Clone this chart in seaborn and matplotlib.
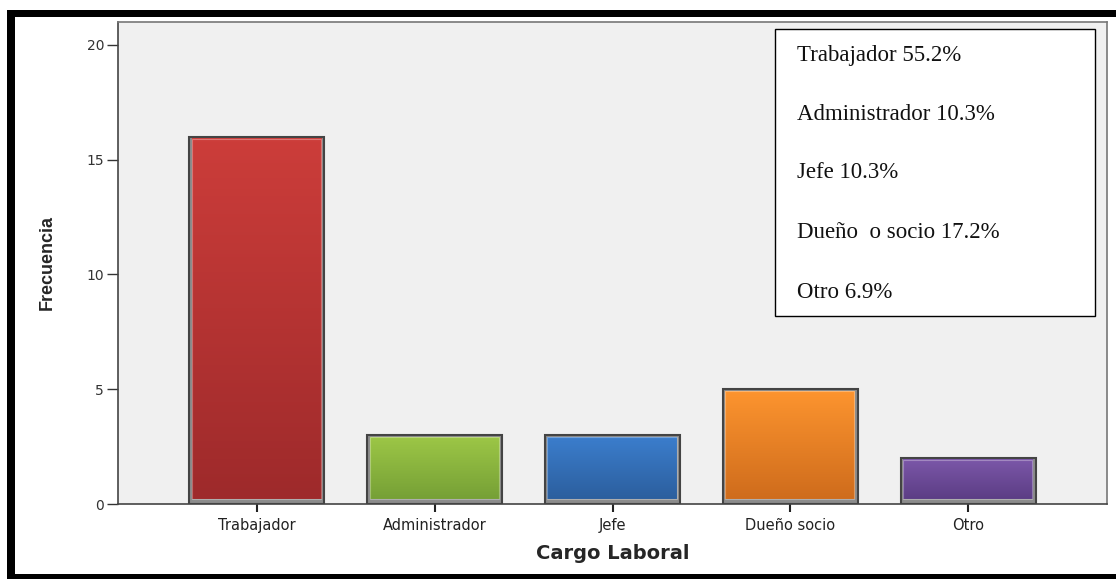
import matplotlib
matplotlib.use("Agg")
import matplotlib.pyplot as plt
import numpy as np
import seaborn as sns
from matplotlib.colors import LinearSegmentedColormap
from matplotlib.patches import Rectangle

# datos
cargos = ["Trabajador", "Administrador", "Jefe", "Dueño socio", "Otro"]
frecuencias = [16, 3, 3, 5, 2]
etiquetas_cuadro = ["Trabajador", "Administrador", "Jefe", "Dueño  o socio", "Otro"]
colores_sup = ["#cc3d3a", "#9cc646", "#3b7dcc", "#fc942f", "#7b57a8"]
colores_inf = ["#9e2a2b", "#76a036", "#2c5f9e", "#cf6c1c", "#5c3d85"]
ticks_y = [0, 5, 10, 15, 20]

sns.set_theme(style="white")
plt.rcParams["font.family"] = ["DejaVu Sans"]

fig = plt.figure(figsize=(11.16, 5.79), dpi=100)
ax = fig.add_axes([118 / 1116, 75 / 579, 989 / 1116, 482 / 579])
ax.set_facecolor("#f0f0f0")

sns.barplot(x=cargos, y=frecuencias, ax=ax, width=0.76, color="#8c8c8c",
            edgecolor="#444444", linewidth=1.5, saturation=1)

# relleno degradado dentro de cada barra
for i, bar in enumerate(ax.patches):
    x0 = bar.get_x()
    w = bar.get_width()
    h = bar.get_height()
    cmap = LinearSegmentedColormap.from_list("g", [colores_inf[i], colores_sup[i]])
    grad = np.linspace(0, 1, 100).reshape(-1, 1)
    ax.imshow(grad, cmap=cmap, origin="lower", aspect="auto",
              extent=(x0 + 0.014, x0 + w - 0.02, 0.22, h - 0.08), zorder=3)
    ax.add_patch(Rectangle((x0 + 0.014, 0.22), w - 0.034, h - 0.3, fill=False,
                           edgecolor="white", linewidth=0.8, alpha=0.3, zorder=4))

ax.set_xlim(-0.78, 4.78)
ax.set_ylim(0, 21)
ax.set_yticks(ticks_y)
ax.tick_params(axis="y", direction="out", length=8, width=1, color="#333333",
               labelcolor="#333333", labelsize=10, left=True, pad=2)
ax.tick_params(axis="x", direction="out", length=6, width=1.5, color="#222222",
               labelcolor="#222222", labelsize=10.5, bottom=True, pad=4)
for s in ax.spines.values():
    s.set_color("#777777")
    s.set_linewidth(1.2)
ax.spines["left"].set_color("#444444")
ax.spines["bottom"].set_color("#444444")

ax.set_xlabel("Cargo Laboral", fontsize=14, fontweight="bold", labelpad=8)
ax.set_ylabel("Frecuencia", fontsize=13, fontweight="bold", labelpad=22,
              family=["Liberation Sans Narrow", "Liberation Sans", "DejaVu Sans"])

# cuadro de porcentajes
total = sum(frecuencias)
fig.patches.append(Rectangle((775 / 1116, 1 - 316 / 579), 320 / 1116, 287 / 579,
                             transform=fig.transFigure, facecolor="white",
                             edgecolor="black", linewidth=1, zorder=5))
ys = [55, 115, 173, 233, 292]
for etiqueta, f, yy in zip(etiquetas_cuadro, frecuencias, ys):
    fig.text(797 / 1116, 1 - yy / 579, f"{etiqueta} {f / total * 100:.1f}%",
             family=["Liberation Serif", "DejaVu Serif"], fontsize=16.5,
             va="center", ha="left", color="#111111", zorder=6)

# marco negro
negro = dict(transform=fig.transFigure, facecolor="black", edgecolor="none", zorder=10)
fig.patches.append(Rectangle((7 / 1116, 0), 8 / 1116, 1 - 10 / 579, **negro))
fig.patches.append(Rectangle((7 / 1116, 1 - 17 / 579), 1, 7 / 579, **negro))
fig.patches.append(Rectangle((7 / 1116, 0), 1, 5 / 579, **negro))

plt.savefig("out.png", dpi=100)
plt.close()
